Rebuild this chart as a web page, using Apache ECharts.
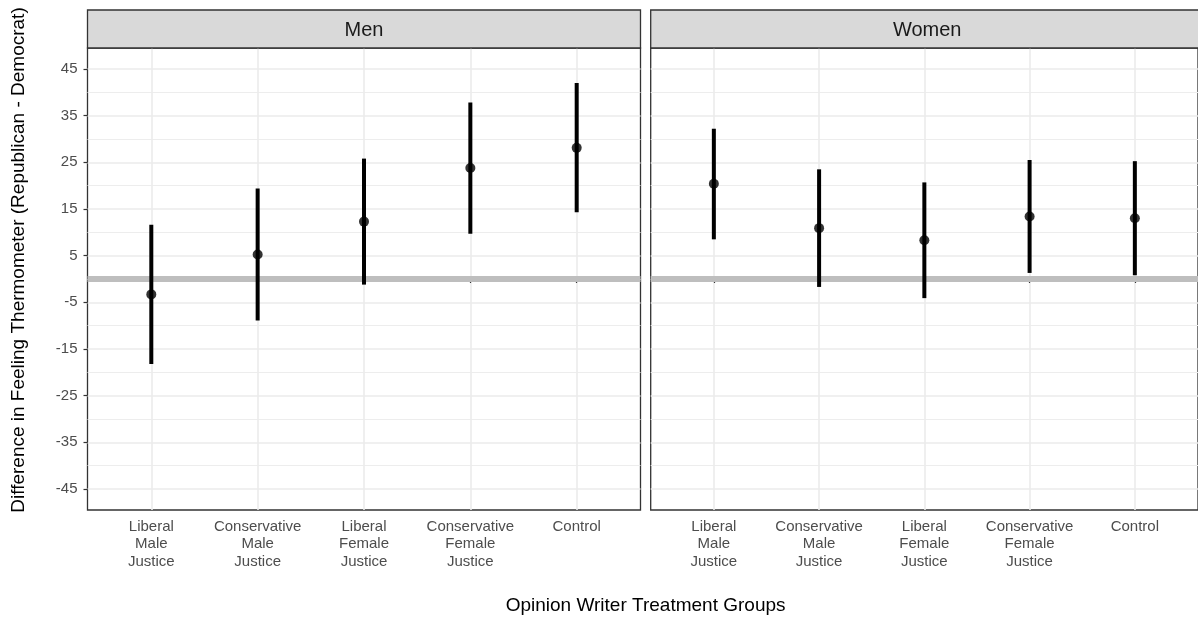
<!DOCTYPE html>
<html>
<head>
<meta charset="utf-8">
<script src="https://cdn.jsdelivr.net/npm/echarts@6/dist/echarts.min.js"></script>
<style>
html,body{margin:0;padding:0;background:#fff;}
#chart{width:1198px;height:619px;}
</style>
</head>
<body>
<div id="chart"></div>
<script>
// ---- data ----
var categories = ['Liberal\nMale\nJustice', 'Conservative\nMale\nJustice', 'Liberal\nFemale\nJustice', 'Conservative\nFemale\nJustice', 'Control'];
var panels = ['Men', 'Women'];
var menEst = [-3.3, 5.25, 12.3, 23.8, 28.1];
var menLo  = [-18.2, -8.9, -1.2, 9.7, 14.3];
var menHi  = [11.6, 19.4, 25.8, 37.8, 42.0];
var womenEst = [20.4, 10.9, 8.3, 13.4, 13.0];
var womenLo  = [8.5, -1.7, -4.1, 1.3, 0.8];
var womenHi  = [32.2, 23.5, 20.7, 25.5, 25.25];
var yTicks = [-45, -35, -25, -15, -5, 5, 15, 25, 35, 45];
var yMinor = [-40, -30, -20, -10, 0, 10, 20, 30, 40];
var refLine = 0;
var xTitle = 'Opinion Writer Treatment Groups';
var yTitle = 'Difference in Feeling Thermometer (Republican - Democrat)';

// ---- layout ----
var PANEL_W = 553, PANEL_TOP = 48, PANEL_H = 462;
var panelLeft = [87.5, 650.7];
var STRIP_TOP = 10;
var X_MIN = 0.4, X_MAX = 5.6;
var FONT = 'Liberation Sans, Arial, Helvetica, sans-serif';

var chart = echarts.init(document.getElementById('chart'), null, {renderer: 'canvas'});

var xIdx = categories.map(function (c, i) { return i + 1; });
var est = [menEst, womenEst], lo = [menLo, womenLo], hi = [menHi, womenHi];

var grids = [], xAxes = [], yAxes = [], series = [], graphics = [];
panels.forEach(function (name, p) {
  grids.push({left: panelLeft[p], top: PANEL_TOP, width: PANEL_W, height: PANEL_H,
    show: true, borderColor: '#333333', borderWidth: 1.3, backgroundColor: '#ffffff'});
  xAxes.push({type: 'value', gridIndex: p, min: X_MIN, max: X_MAX,
    axisLine: {show: false},
    axisTick: {show: true, customValues: xIdx, length: 4, lineStyle: {color: '#333333', width: 1.2}},
    axisLabel: {show: true, customValues: xIdx, margin: 8, color: '#4d4d4d', fontSize: 15, lineHeight: 17.5,
      fontFamily: FONT,
      formatter: function (v) { return categories[Math.round(v) - 1] || ''; }},
    splitLine: {show: true, lineStyle: {color: '#ebebeb', width: 1.6}}
  });
  yAxes.push({type: 'value', gridIndex: p, min: -49.5, max: 49.5,
    axisLine: {show: false},
    axisTick: {show: p === 0, customValues: yTicks, length: 4, lineStyle: {color: '#333333', width: 1.2}},
    axisLabel: {show: p === 0, customValues: yTicks, margin: 10, color: '#4d4d4d', fontSize: 15,
      fontFamily: FONT},
    splitLine: {show: true, lineStyle: {color: '#ebebeb', width: 1.6}}
  });
  // minor grid lines
  yAxes.push({type: 'value', gridIndex: p, min: -49.5, max: 49.5, position: 'right',
    axisLine: {show: false},
    axisTick: {show: false, customValues: yMinor},
    axisLabel: {show: false, customValues: yMinor},
    splitLine: {show: true, lineStyle: {color: '#ededed', width: 1.0}}
  });

  var yi = p * 2;
  // reference line at 0 (drawn beneath the point ranges)
  series.push({type: 'custom', xAxisIndex: p, yAxisIndex: yi, z: 1, silent: true,
    data: [[X_MIN, refLine, X_MAX]],
    encode: {x: [0, 2], y: 1},
    renderItem: function (params, api) {
      var a = api.coord([api.value(0), api.value(1)]);
      var b = api.coord([api.value(2), api.value(1)]);
      return {type: 'line', shape: {x1: a[0], y1: a[1], x2: b[0], y2: b[1]},
        style: {stroke: '#bebebe', lineWidth: 6}};
    }});
  // error bars
  series.push({type: 'custom', xAxisIndex: p, yAxisIndex: yi, z: 6,
    data: xIdx.map(function (x, i) { return [x, lo[p][i], hi[p][i]]; }),
    encode: {x: 0, y: [1, 2]},
    renderItem: function (params, api) {
      var a = api.coord([api.value(0), api.value(1)]);
      var b = api.coord([api.value(0), api.value(2)]);
      return {type: 'line', shape: {x1: a[0], y1: a[1], x2: b[0], y2: b[1]},
        style: {stroke: '#000000', lineWidth: 4}};
    }});
  // points
  series.push({type: 'scatter', xAxisIndex: p, yAxisIndex: yi, z: 7,
    symbol: 'circle', symbolSize: 10, itemStyle: {color: '#000000'},
    data: xIdx.map(function (x, i) { return [x, est[p][i]]; })});

  // strip
  graphics.push({type: 'rect', shape: {x: panelLeft[p], y: STRIP_TOP, width: PANEL_W, height: PANEL_TOP - STRIP_TOP},
    style: {fill: '#d9d9d9', stroke: '#333333', lineWidth: 1.3}, z: 10});
  graphics.push({type: 'text', x: panelLeft[p] + PANEL_W / 2, y: (STRIP_TOP + PANEL_TOP) / 2 + 1, z: 11,
    style: {text: name, fill: '#1a1a1a', fontSize: 20, fontFamily: FONT,
      textAlign: 'center', textVerticalAlign: 'middle'}});
});

graphics.push({type: 'text', x: (panelLeft[0] + panelLeft[1] + PANEL_W) / 2, y: 606, z: 11,
  style: {text: xTitle, fill: '#000000', fontSize: 19, fontFamily: FONT,
    textAlign: 'center', textVerticalAlign: 'middle'}});
graphics.push({type: 'text', x: 19, y: (STRIP_TOP + PANEL_TOP + PANEL_H) / 2, rotation: Math.PI / 2, z: 11,
  style: {text: yTitle, fill: '#000000', fontSize: 19, fontFamily: FONT,
    textAlign: 'center', textVerticalAlign: 'middle'}});

chart.setOption({
  animation: false,
  backgroundColor: '#ffffff',
  grid: grids,
  xAxis: xAxes,
  yAxis: yAxes,
  series: series,
  graphic: graphics
});
</script>
</body>
</html>
